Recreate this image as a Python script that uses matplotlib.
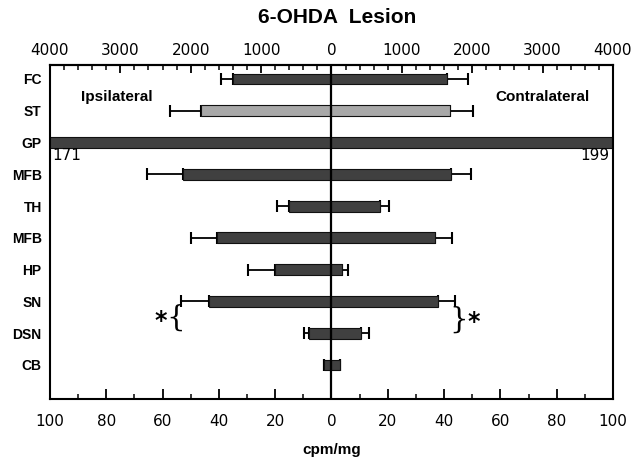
import numpy as np
import matplotlib
matplotlib.use("Agg")
import matplotlib.pyplot as plt
from matplotlib.ticker import FixedLocator, FuncFormatter


# regions, top to bottom
regions = ["FC", "ST", "GP", "MFB", "TH", "MFB", "HP", "SN", "DSN", "CB"]

# binding in cpm/mg, mean and SEM for each side
ipsi = [35.0, 46.4, 171, 52.9, 15.2, 40.5, 20.1, 43.4, 8.0, 2.6]
ipsi_err = [4.4, 10.8, 0, 12.6, 4.2, 9.5, 9.7, 10.1, 1.7, 0]
contra = [40.9, 42.2, 199, 42.6, 17.2, 36.7, 3.9, 37.9, 10.4, 2.9]
contra_err = [7.7, 7.9, 0, 6.8, 3.2, 6.2, 1.8, 5.9, 2.9, 0]

# tick values for the lower (cpm/mg) and upper scales
bottom_ticks = [-100, -80, -60, -40, -20, 0, 20, 40, 60, 80, 100]
top_ticks = [-4000, -3000, -2000, -1000, 0, 1000, 2000, 3000, 4000]
top_factor = 40  # upper scale is 40x the cpm/mg scale

dark = "#404040"
light = "#a8a8a8"
bar_colors = [dark, light, dark, dark, dark, dark, dark, dark, dark, dark]

fig = plt.figure(figsize=(6.39, 4.61), dpi=100)
ax = fig.add_axes([0.0782, 0.1345, 0.8811, 0.7245])

y = np.arange(len(regions))
h = 0.34

# error bars sit under the bars so only the outer whisker shows
ax.errorbar(-np.array(ipsi), y, xerr=[ipsi_err, np.zeros(len(y))], fmt="none",
            ecolor="black", elinewidth=1.3, capsize=4, capthick=1.5, zorder=1)
ax.errorbar(np.array(contra), y, xerr=[np.zeros(len(y)), contra_err], fmt="none",
            ecolor="black", elinewidth=1.3, capsize=4, capthick=1.5, zorder=1)

ax.barh(y, -np.array(ipsi), height=h, color=bar_colors, edgecolor="#111111",
        linewidth=0.8, zorder=2)
ax.barh(y, contra, height=h, color=bar_colors, edgecolor="#111111",
        linewidth=0.8, zorder=2)

ax.axvline(0, color="black", lw=1.6, zorder=3)

ax.set_xlim(-100, 100)
ax.set_ylim(len(regions) - 1 + 1.07, -0.44)

# GP values run off the scale, print them instead
gp = regions.index("GP")
ax.text(-99.3, gp + 0.42, f"{ipsi[gp]}", ha="left", va="center", fontsize=11,
        family="DejaVu Sans")
ax.text(98.6, gp + 0.42, f"{contra[gp]}", ha="right", va="center", fontsize=11,
        family="DejaVu Sans")

ax.text(-88.8, 0.57, "Ipsilateral", ha="left", va="center", fontsize=11,
        fontweight="bold", family="Liberation Sans")
ax.text(91.7, 0.57, "Contralateral", ha="right", va="center", fontsize=11,
        fontweight="bold", family="Liberation Sans")

# significance marks bracketing SN / DSN
ax.text(-55.5, 7.52, "{", ha="center", va="center", fontsize=21,
        family="DejaVu Serif", fontweight="light")
ax.text(-60.5, 7.6, "*", ha="center", va="center", fontsize=17, fontweight="bold")
ax.text(45.3, 7.58, "}", ha="center", va="center", fontsize=21,
        family="DejaVu Serif", fontweight="light")
ax.text(50.5, 7.66, "*", ha="center", va="center", fontsize=17, fontweight="bold")

for s in ax.spines.values():
    s.set_linewidth(1.5)

ax.set_yticks(y)
ax.set_yticklabels(regions, fontsize=10, fontweight="bold", family="Liberation Sans")
ax.tick_params(axis="y", length=0, pad=6)

ax.xaxis.set_major_locator(FixedLocator(bottom_ticks))
ax.xaxis.set_minor_locator(FixedLocator(np.arange(-90, 100, 20)))
ax.xaxis.set_major_formatter(FuncFormatter(lambda v, p: f"{abs(v):.0f}"))
ax.tick_params(axis="x", which="major", direction="in", length=7, width=1.3,
               labelsize=11, pad=11)
ax.tick_params(axis="x", which="minor", direction="in", length=3.5, width=1.1)
ax.set_xlabel("cpm/mg", fontsize=11, fontweight="bold", family="Liberation Sans",
              labelpad=10)

top = ax.secondary_xaxis("top", functions=(lambda v: v * top_factor,
                                           lambda v: v / top_factor))
top.xaxis.set_major_locator(FixedLocator(top_ticks))
top.xaxis.set_minor_locator(FixedLocator([t for t in range(-3800, 4000, 200)
                                          if t % 1000 != 0]))
top.xaxis.set_major_formatter(FuncFormatter(lambda v, p: f"{abs(v):.0f}"))
top.tick_params(axis="x", which="major", direction="in", length=6, width=1.3,
                labelsize=11, pad=5)
top.tick_params(axis="x", which="minor", direction="in", length=3.5, width=1.1)
top.spines["top"].set_linewidth(1.5)

fig.text(0.527, 0.961, "6-OHDA  Lesion", ha="center", va="center", fontsize=15,
         fontweight="bold", family="Liberation Sans")

fig.savefig("out.png", dpi=100)
